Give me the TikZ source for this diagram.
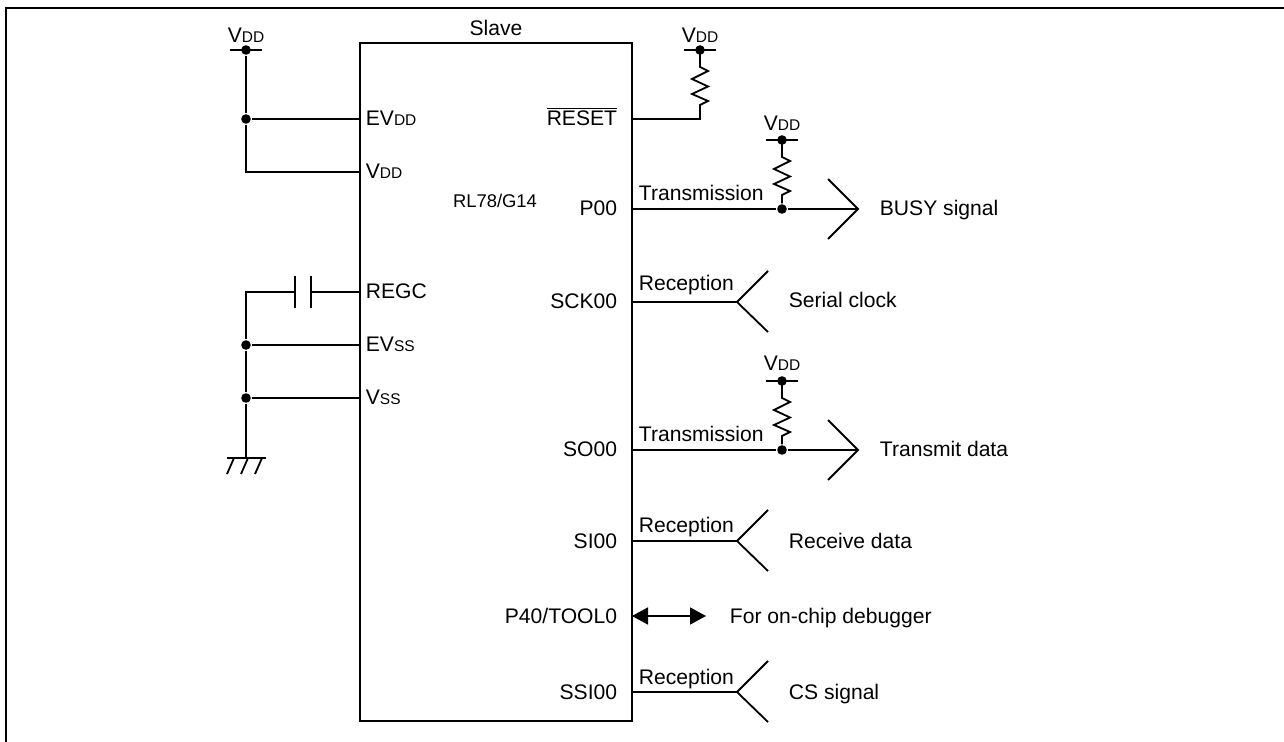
\documentclass[tikz,border=0pt]{standalone}
\usepackage{fontspec}
\setmainfont{Liberation Sans}
\usetikzlibrary{arrows.meta}
\newcommand{\subcap}[1]{{\fontsize{7.75pt}{9pt}\selectfont #1}}
\begin{document}
\begin{tikzpicture}[
    x=0.5pt, y=-0.5pt,
    line width=0.9pt,
    every node/.style={font=\fontsize{10.55pt}{12pt}\selectfont, inner sep=0pt},
    frame line/.style={draw, line width=1.15pt},
    chip box/.style={draw, minimum width=136pt, minimum height=339pt},
    dot/.style={circle, fill=black, minimum size=4.8pt},
    pin left/.style={anchor=base west},
    pin right/.style={anchor=base east},
    wire text/.style={anchor=base west},
    small text/.style={font=\fontsize{9.2pt}{11pt}\selectfont},
    both heads/.style={{Triangle[length=8pt,width=8.5pt]}-{Triangle[length=8pt,width=8.5pt]}},
    ]
\useasboundingbox (0,0) rectangle (1284,742);
\draw[frame line] (6,742) -- (6,8) -- (1284,8);
% chip
\node[chip box] (chip) at (496,382) {};
\node (slave) at (496,28) {Slave};
\node[small text] (part) at (495,201) {RL78/G14};
% left side pins
\coordinate (evdd) at (360,119);
\coordinate (vdd) at (360,172);
\coordinate (regc) at (360,292);
\coordinate (evss) at (360,345);
\coordinate (vss) at (360,398);
\node[pin left] (evddT) at (365,126) {EV\subcap{DD}};
\node[pin left] (vddT) at (365,179) {V\subcap{DD}};
\node[pin left] (regcT) at (365,299) {REGC};
\node[pin left] (evssT) at (365,352) {EV\subcap{SS}};
\node[pin left] (vssT) at (365,405) {V\subcap{SS}};
% left supply
\node (vddA) at (246,35) {V\subcap{DD}};
\node[dot] (topA) at (246,50) {};
\node[dot] (evddJ) at (246,119) {};
\coordinate (vddC) at (246,172);
\draw (topA.center) ++(-16,0) -- ++(32,0);
\draw (topA) -- (evddJ);
\draw (evddJ) -- (vddC) -- (vdd);
\draw (evddJ) -- (evdd);
% left ground and capacitor
\coordinate (regcC) at (246,292);
\node[dot] (evssJ) at (246,345) {};
\node[dot] (vssJ) at (246,398) {};
\coordinate (gnd) at (246,458);
\coordinate (capL) at (295,292);
\coordinate (capR) at (311,292);
\draw (capL) -- (regcC) -- (evssJ);
\draw (capR) -- (regc);
\draw (capL) ++(0,-16) -- ++(0,32);
\draw (capR) ++(0,-16) -- ++(0,32);
\draw (evssJ) -- (evss);
\draw (evssJ) -- (vssJ);
\draw (vssJ) -- (vss);
\draw (vssJ) -- (gnd);
\draw (gnd) ++(-19,0) -- ++(39,0);
\draw (gnd) ++(-12,0) -- ++(-7,16);
\draw (gnd) ++(2,0) -- ++(-7,16);
\draw (gnd) ++(16,0) -- ++(-7,16);
% right side pins
\coordinate (reset) at (632,119);
\coordinate (pzero) at (632,209);
\coordinate (sck) at (632,302);
\coordinate (so) at (632,450);
\coordinate (si) at (632,541);
\coordinate (tool) at (632,616);
\coordinate (ssi) at (632,692);
\node[pin right] (resetT) at (618,126) {$\overline{\mbox{RESET}}$};
\node[pin right] (pzeroT) at (618,216) {P00};
\node[pin right] (sckT) at (618,309) {SCK00};
\node[pin right] (soT) at (618,457) {SO00};
\node[pin right] (siT) at (618,548) {SI00};
\node[pin right] (toolT) at (618,623) {P40/TOOL0};
\node[pin right] (ssiT) at (618,699) {SSI00};
% reset pull-up
\node (vddB) at (700,35) {V\subcap{DD}};
\node[dot] (topB) at (700,50) {};
\coordinate (resetC) at (700,119);
\draw (topB.center) ++(-16,0) -- ++(32,0);
\draw (topB.center) -- ++(0,17) -- ++(8,4) -- ++(-16,8) -- ++(16,7.5) -- ++(-16,7.5) -- ++(16,7) -- ++(-8,4) -- (resetC) -- (reset);
% P00
\node (vddC) at (782,123) {V\subcap{DD}};
\node[dot] (topC) at (782,140) {};
\node[dot] (pzeroJ) at (782,209) {};
\coordinate (pzeroTip) at (858,209);
\draw (topC.center) ++(-16,0) -- ++(32,0);
\draw (topC.center) -- ++(0,17) -- ++(8,4) -- ++(-16,8) -- ++(16,7.5) -- ++(-16,7.5) -- ++(16,7) -- ++(-8,4) -- (pzeroJ);
\draw (pzero) -- (pzeroJ) -- (pzeroTip);
\draw (pzeroTip) ++(-30,-30) -- (pzeroTip) -- ++(-30,30);
\node[wire text] (pzeroW) at (638,201) {Transmission};
\node[anchor=base west] (busy) at (879,216) {BUSY signal};
% SCK00
\coordinate (sckTip) at (737,302);
\draw (sck) -- (sckTip);
\draw (sckTip) ++(31,-31) -- (sckTip) -- ++(31,30);
\node[wire text] (sckW) at (638,291) {Reception};
\node[anchor=base west] (clock) at (788,308) {Serial clock};
% SO00
\node (vddD) at (782,363) {V\subcap{DD}};
\node[dot] (topD) at (782,381) {};
\node[dot] (soJ) at (782,450) {};
\coordinate (soTip) at (858,450);
\draw (topD.center) ++(-16,0) -- ++(32,0);
\draw (topD.center) -- ++(0,17) -- ++(8,4) -- ++(-16,8) -- ++(16,7.5) -- ++(-16,7.5) -- ++(16,7) -- ++(-8,4) -- (soJ);
\draw (so) -- (soJ) -- (soTip);
\draw (soTip) ++(-30,-30) -- (soTip) -- ++(-30,30);
\node[wire text] (soW) at (638,442) {Transmission};
\node[anchor=base west] (transmit) at (879,457) {Transmit data};
% SI00
\coordinate (siTip) at (737,541);
\draw (si) -- (siTip);
\draw (siTip) ++(31,-31) -- (siTip) -- ++(31,30);
\node[wire text] (siW) at (638,532) {Reception};
\node[anchor=base west] (receive) at (788,548) {Receive data};
% P40/TOOL0
\coordinate (toolEnd) at (706,616);
\draw[both heads] (tool) -- (toolEnd);
\node[anchor=base west] (debug) at (729,623) {For on-chip debugger};
% SSI00
\coordinate (ssiTip) at (737,692);
\draw (ssi) -- (ssiTip);
\draw (ssiTip) ++(31,-31) -- (ssiTip) -- ++(31,30);
\node[wire text] (ssiW) at (638,684) {Reception};
\node[anchor=base west] (cs) at (788,699) {CS signal};
\end{tikzpicture}
\end{document}
